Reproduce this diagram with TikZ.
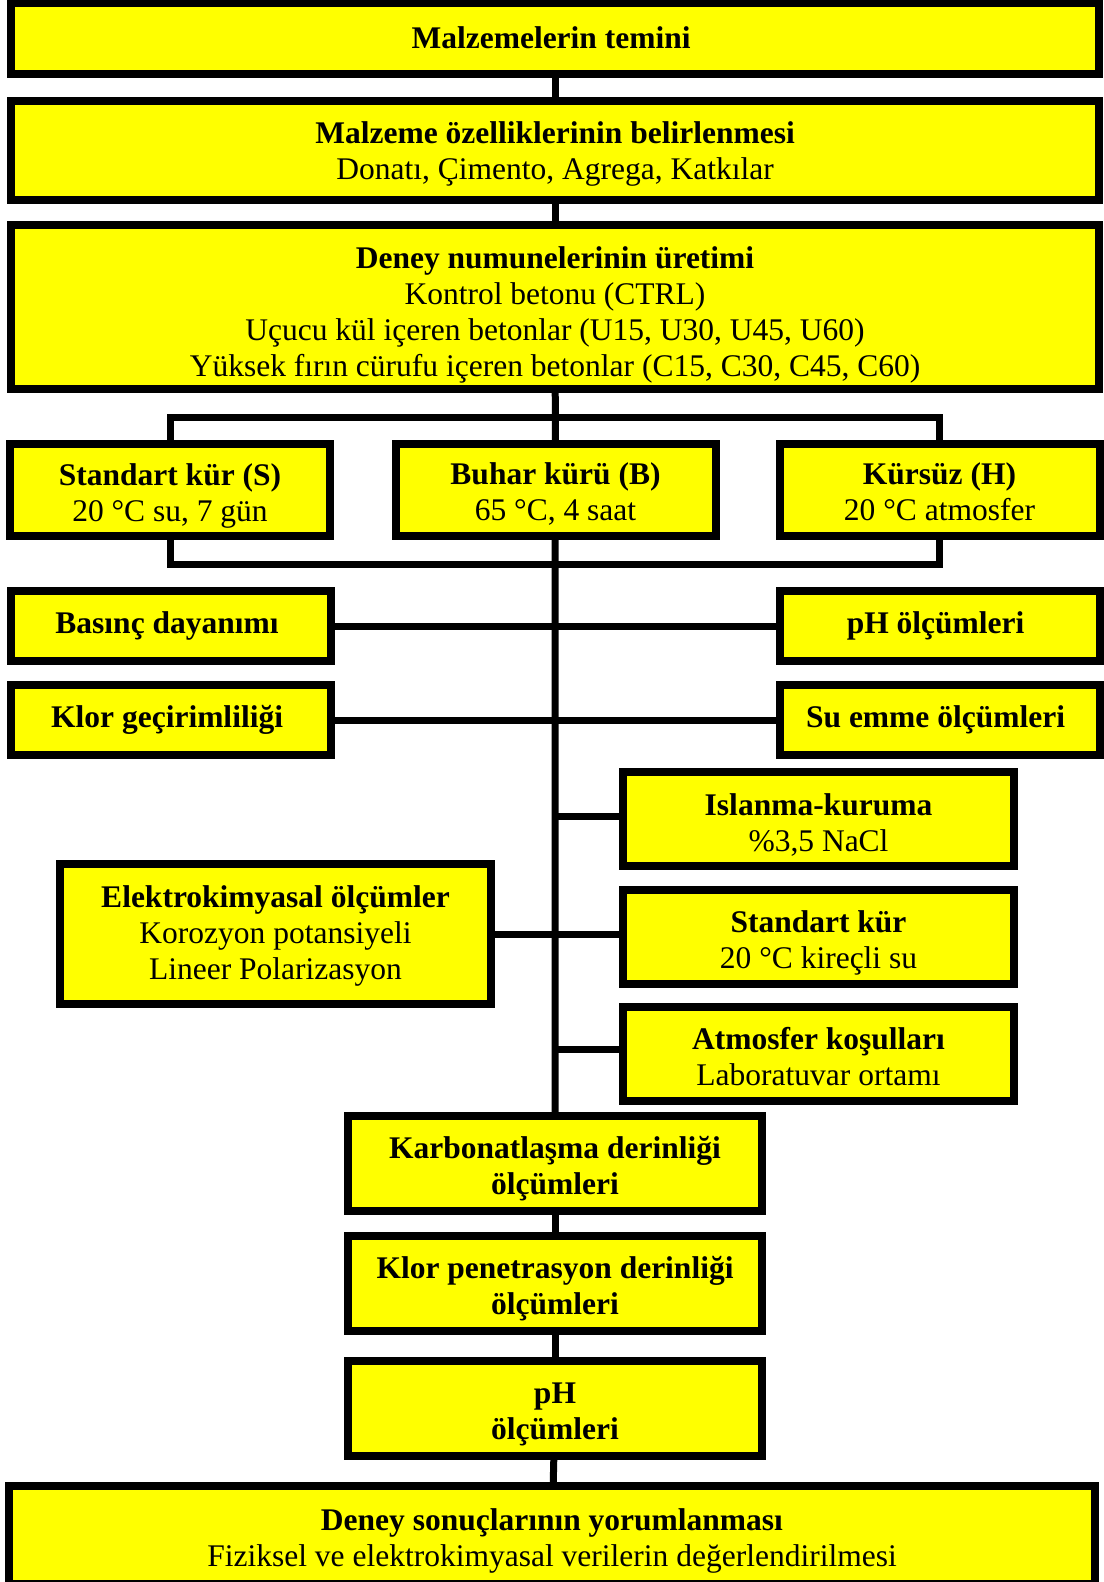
\documentclass[tikz,border=0pt]{standalone}
\usepackage{fontspec}
\setmainfont{Liberation Serif}
\definecolor{sari}{RGB}{255,255,0}
% ilk satiri biraz asagi almak icin
\newcommand{\ustbosluk}[1][33pt]{\rule{0pt}{#1}}
\begin{document}
\begin{tikzpicture}
  [x=1pt, y=-1pt,
  kutu/.style={
    draw=black,
    fill=sari,
    rectangle,
    line width=8pt,
    inner sep=0pt,
    align=center,
    font=\fontsize{31.5}{36}\selectfont},
  genis/.style={
    kutu,
    minimum width=1088pt},
  yan/.style={
    kutu,
    minimum width=320pt},
  orta/.style={
    kutu,
    minimum width=414pt,
    minimum height=95pt},
  sag/.style={
    kutu,
    minimum width=391pt,
    minimum height=94pt},
  hat/.style={
    line width=7pt}]

  \useasboundingbox (0,0) rectangle (1103,1582);

  \node [genis, minimum height=71pt] at (555,38) (temin) {
    \textbf{Malzemelerin temini}
  };

  \node [genis, minimum height=99pt] at (555,150.5) (ozellik) {
    \ustbosluk[29pt]\textbf{Malzeme özelliklerinin belirlenmesi}\\
    Donatı, Çimento, Agrega, Katkılar
  };

  \node [genis, minimum height=164pt] at (555,307) (uretim) {
    \ustbosluk[37pt]\textbf{Deney numunelerinin üretimi}\\
    Kontrol betonu (CTRL)\\
    Uçucu kül içeren betonlar (U15, U30, U45, U60)\\
    Yüksek fırın cürufu içeren betonlar (C15, C30, C45, C60)
  };

  % kur kosullari
  \node [yan, minimum height=92pt] at (170,490) (standart) {
    \ustbosluk\textbf{Standart kür (S)}\\
    20 °C su, 7 gün
  };

  \node [yan, minimum height=92pt] at (555.5,490) (buhar) {
    \ustbosluk[30pt]\textbf{Buhar kürü (B)}\\
    65 °C, 4 saat
  };

  \node [yan, minimum height=92pt] at (939.5,490) (kursuz) {
    \ustbosluk[26pt]\textbf{Kürsüz (H)}\\
    20 °C atmosfer
  };

  % deneyler
  \node [yan, minimum height=70pt] at (171,626) (basinc) {
    \textbf{Basınç dayanımı}
  };

  \node [yan, minimum height=70pt] at (939.5,626) (ph) {
    \textbf{pH ölçümleri}
  };

  \node [yan, minimum height=70pt] at (171,720) (klor) {
    \textbf{Klor geçirimliliği}
  };

  \node [yan, minimum height=70pt] at (939.5,720) (suemme) {
    \textbf{Su emme ölçümleri}
  };

  \node [sag] at (818.5,819) (islanma) {
    \ustbosluk\textbf{Islanma-kuruma}\\
    \%3,5 NaCl
  };

  \node [sag] at (818.5,937) (kirecli) {
    \ustbosluk\textbf{Standart kür}\\
    20 °C kireçli su
  };

  \node [sag] at (818.5,1054) (atmosfer) {
    \ustbosluk[28pt]\textbf{Atmosfer koşulları}\\
    Laboratuvar ortamı
  };

  \node [kutu, minimum width=431pt, minimum height=140pt] at (275.5,934) (elektro) {
    \ustbosluk[25pt]\textbf{Elektrokimyasal ölçümler}\\
    Korozyon potansiyeli\\
    Lineer Polarizasyon
  };

  \node [orta] at (555,1163.5) (karbon) {
    \ustbosluk\textbf{Karbonatlaşma derinliği}\\
    \textbf{ölçümleri}
  };

  \node [orta] at (555,1283.5) (penetrasyon) {
    \ustbosluk\textbf{Klor penetrasyon derinliği}\\
    \textbf{ölçümleri}
  };

  \node [orta] at (555,1408.5) (phson) {
    \ustbosluk\textbf{pH}\\
    \textbf{ölçümleri}
  };

  \node [kutu, minimum width=1086pt, minimum height=98pt] at (552,1535) (yorum) {
    \ustbosluk\textbf{Deney sonuçlarının yorumlanması}\\
    Fiziksel ve elektrokimyasal verilerin değerlendirilmesi
  };

  \coordinate (ust) at (555,417.5);
  \coordinate (alt) at (555,564);

  \draw [hat] (temin) -- (ozellik);
  \draw [hat] (ozellik) -- (uretim);
  \draw [hat] (uretim) -- (buhar);
  \draw [hat] (standart.north) |- (ust) -| (kursuz.north);
  \draw [hat] (standart.south) |- (alt) -| (kursuz.south);
  \draw [hat] (buhar) -- (alt) -- (karbon.north);
  \draw [hat] (basinc) -- (ph);
  \draw [hat] (klor) -- (suemme);
  \draw [hat] ([yshift=3pt]islanma.west) -- ([yshift=3pt]islanma.west -| alt);
  \draw [hat] (elektro.east) -- (kirecli.west |- elektro.east);
  \draw [hat] ([yshift=5pt]atmosfer.west) -- ([yshift=5pt]atmosfer.west -| alt);
  \draw [hat] (karbon) -- (penetrasyon);
  \draw [hat] (penetrasyon) -- (phson);
  \draw [hat] (phson) -- (yorum);
\end{tikzpicture}
\end{document}
